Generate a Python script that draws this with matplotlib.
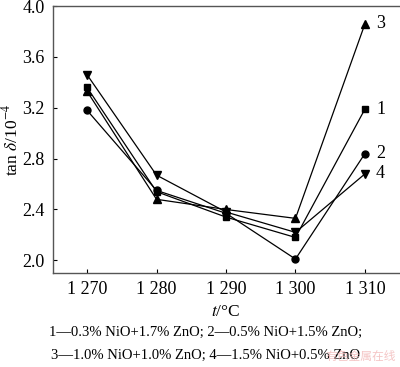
import matplotlib
matplotlib.use('Agg')
import matplotlib.pyplot as plt

# data
temps = [1270, 1280, 1290, 1300, 1310]
tick_labels = ['1 270', '1 280', '1 290', '1 300', '1 310']
s1 = [3.36, 2.54, 2.34, 2.18, 3.19]   # square
s2 = [3.18, 2.55, 2.37, 2.01, 2.84]   # circle
s3 = [3.33, 2.48, 2.40, 2.33, 3.86]   # triangle up
s4 = [3.46, 2.67, 2.38, 2.22, 2.68]   # triangle down
series_names = ['1', '2', '3', '4']
y_ticks = [2.0, 2.4, 2.8, 3.2, 3.6, 4.0]
caption1 = '1\u20140.3% NiO+1.7% ZnO; 2\u20140.5% NiO+1.5% ZnO;'
caption2 = '3\u20141.0% NiO+1.0% ZnO; 4\u20141.5% NiO+0.5% ZnO'

plt.rcParams['font.family'] = ['Liberation Serif', 'Noto Sans CJK SC', 'DejaVu Serif']
plt.rcParams['mathtext.fontset'] = 'stix'

fig = plt.figure(figsize=(4.0, 3.67), dpi=100)
ax = fig.add_axes([0.1325, 0.256, 0.865, 0.7275])

markers = ['s', 'o', '^', 'v']
sizes = [4.5, 5, 5.5, 5.5]
for ys, m, ms, name in zip([s1, s2, s3, s4], markers, sizes, series_names):
    ax.plot(temps, ys, color='black', lw=0.9, marker=m, markersize=ms)
    ax.annotate(name, (temps[-1], ys[-1]), xytext=(8, 0), textcoords='offset points',
                ha='left', va='center', fontsize=13)

ax.set_xlim(1265.1, 1314.9)
ax.set_ylim(1.9, 4.0)
ax.set_xticks(temps)
ax.set_xticklabels(tick_labels)
ax.set_yticks(y_ticks)
ax.set_yticklabels(['%.1f' % v for v in y_ticks])
ax.tick_params(direction='in', length=3, width=0.8, labelsize=13, pad=6)
for sp in ax.spines.values():
    sp.set_linewidth(1.0)
    sp.set_color('#555555')
ax.spines['right'].set_visible(False)

ax.set_ylabel(r'tan $\mathit{\delta}$/10$^{-4}$', fontsize=12.5, labelpad=1)
ax.set_xlabel(r'$\mathit{t}$/°C', fontsize=12.5, labelpad=4)

fig.text(0.515, 0.095, caption1, ha='center', va='center', fontsize=10.5)
fig.text(0.515, 0.032, caption2, ha='center', va='center', fontsize=10.5)
fig.text(0.99, 0.012, '有色金属在线', ha='right', va='bottom', fontsize=8.5,
         color='#f2b8b8', family=['Noto Sans CJK SC', 'DejaVu Sans'], alpha=0.8)

fig.savefig('out.png', dpi=100)
